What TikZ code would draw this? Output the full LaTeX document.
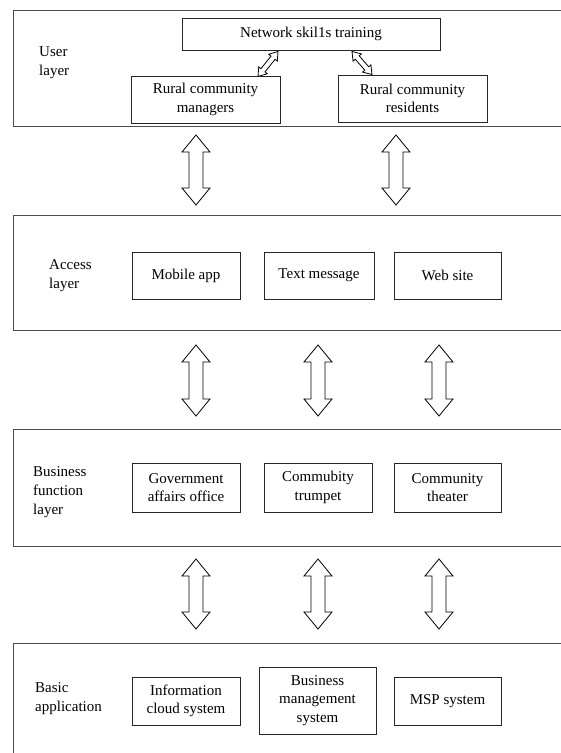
\documentclass[tikz,border=0pt]{standalone}
\usepackage{fontspec}
\setmainfont{Liberation Serif}
\usetikzlibrary{calc}
\tikzset{
  layerbox/.style={draw=black!70, line width=1.1pt},
  itembox/.style={draw=black!85, line width=0.9pt, inner sep=0pt, align=center,
    font=\fontsize{15}{18.5}\selectfont},
  layerlabel/.style={anchor=west, align=left, inner sep=0pt,
    font=\fontsize{15}{19}\selectfont},
  arr/.style={draw=black, line width=0.8pt, line join=miter, fill=white}
}
% #1 start, #2 end, #3 head length, #4 head half width, #5 shaft half width
\newcommand\dblarrow[5]{%
  \path[arr] let \p1=(#1), \p2=(#2),
    \n1={atan2(\y2-\y1,\x2-\x1)}, \n2={veclen(\x2-\x1,\y2-\y1)} in
    [shift={(\p1)}, rotate=\n1]
    (0,0) -- (#3,#4) -- (#3,#5) -- (\n2-#3,#5) -- (\n2-#3,#4) -- (\n2,0)
    -- (\n2-#3,-#4) -- (\n2-#3,-#5) -- (#3,-#5) -- (#3,-#4) -- cycle;}
\begin{document}
\begin{tikzpicture}[x=1pt,y=-1pt]
\clip (0,0) rectangle (561,753);
\fill[white] (0,0) rectangle (561,753);

% layer boxes
\draw[layerbox] (13.5,10.5) rectangle (580,126.5);
\draw[layerbox] (13.5,215.5) rectangle (580,330.5);
\draw[layerbox] (13.5,429.5) rectangle (580,546.5);
\draw[layerbox] (13.5,643.5) rectangle (580,770);

% layer labels
\node[layerlabel] (lu) at (39,62.5) {User\\layer};
\node[layerlabel] (la) at (49,275.5) {Access\\layer};
\node[layerlabel] (lb) at (33,492) {Business\\function\\layer};
\node[layerlabel] (lc) at (35,698.5) {Basic\\application};

% user layer
\node[itembox, minimum width=258, minimum height=32] (net) at (311,34) {Network skil1s training};
\node[itembox, minimum width=149, minimum height=47] (mgr) at (205.5,99.5) {Rural community\\managers};
\node[itembox, minimum width=149, minimum height=47] (res) at (412.5,98.5) {Rural community\\residents};

% access layer
\node[itembox, minimum width=108, minimum height=47] (app) at (186,275.5) {Mobile app};
\node[itembox, minimum width=110, minimum height=47] (sms) at (319,275.5) {Text message};
\node[itembox, minimum width=107, minimum height=47] (web) at (447.5,275.5) {Web site};

% business function layer
\node[itembox, minimum width=108, minimum height=49] (gov) at (186,487.5) {Government\\affairs office};
\node[itembox, minimum width=108, minimum height=49] (tru) at (318,487.5) {Commubity\\trumpet};
\node[itembox, minimum width=107, minimum height=49] (the) at (447.5,487.5) {Community\\theater};

% basic application
\node[itembox, minimum width=108, minimum height=48] (inf) at (186,701) {Information\\cloud system};
\node[itembox, minimum width=117, minimum height=67] (bms) at (317.5,700.5) {Business\\management\\system};
\node[itembox, minimum width=107, minimum height=48] (msp) at (447.5,701) {MSP system};

% small arrows in user layer
\coordinate (s1a) at ($(net.south)+(-33,1)$);
\coordinate (s1b) at ($(mgr.north)+(52.5,1)$);
\coordinate (s2a) at ($(net.south)+(41,1)$);
\coordinate (s2b) at ($(res.north)+(-40.5,0)$);
\dblarrow{s1a}{s1b}{8}{5.5}{2.6}
\dblarrow{s2a}{s2b}{8}{5.5}{2.6}

% big arrows
\foreach \nm/\xx/\ya/\yb in {u1/196/135/205, u2/396/135/205,
  a1/196/345/416, a2/318/345/416, a3/439/345/416,
  b1/196/559/629, b2/318/559/629, b3/439/559/629}{
  \coordinate (\nm top) at (\xx,\ya);
  \coordinate (\nm bot) at (\xx,\yb);
  \dblarrow{\nm top}{\nm bot}{17}{14}{7}
}
\end{tikzpicture}
\end{document}
